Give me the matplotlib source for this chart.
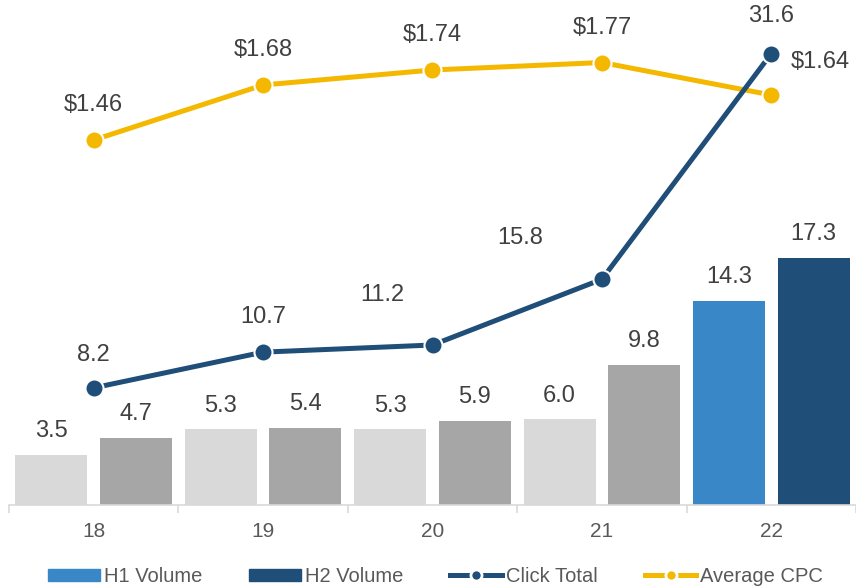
import numpy as np
import matplotlib.pyplot as plt
from matplotlib.patches import Patch
from matplotlib.lines import Line2D

plt.rcParams['font.family'] = ['Liberation Sans', 'DejaVu Sans']

# Data
years = ['18', '19', '20', '21', '22']
h1_volume = [3.5, 5.3, 5.3, 6.0, 14.3]
h2_volume = [4.7, 5.4, 5.9, 9.8, 17.3]
click_total = [8.2, 10.7, 11.2, 15.8, 31.6]
avg_cpc = [1.46, 1.68, 1.74, 1.77, 1.64]

# colours
light_grey = '#d9d9d9'
dark_grey = '#a6a6a6'
h1_blue = '#3a87c8'
h2_navy = '#1f4e79'
gold = '#f5b800'
text_col = '#404040'
tick_col = '#595959'

fig = plt.figure(figsize=(8.56, 5.87), dpi=100)
ax = fig.add_axes([9 / 856, 82 / 587, 847 / 856, 500 / 587])
ax2 = ax.twinx()

x = np.arange(len(years))
w = 0.425
h1_colors = [light_grey] * 4 + [h1_blue]
h2_colors = [dark_grey] * 4 + [h2_navy]
b1 = ax.bar(x - 0.25, h1_volume, w, color=h1_colors, zorder=2)
b2 = ax.bar(x + 0.25, h2_volume, w, color=h2_colors, zorder=2)

lab_size = 17
for bars, vals in [(b1, h1_volume), (b2, h2_volume)]:
    for r, v in zip(bars, vals):
        ax.annotate(f'{v:.1f}', (r.get_x() + r.get_width() / 2, v),
                    xytext=(0, 17), textcoords='offset points',
                    ha='center', va='center', fontsize=lab_size, color=text_col)

# click total line on the volume axis
ax.plot(x, click_total, color=h2_navy, lw=3.6, marker='o', ms=13,
        mec='white', mew=1.5, solid_capstyle='round', zorder=4)
click_off = [(0, 24), (0, 25), (-36, 36), (-59, 30), (0, 27)]
for xi, v, off in zip(x, click_total, click_off):
    ax.annotate(f'{v:.1f}', (xi, v), xytext=off, textcoords='offset points',
                ha='center', va='center', fontsize=lab_size, color=text_col)

# average CPC on the secondary axis
ax2.plot(x, avg_cpc, color=gold, lw=3.6, marker='o', ms=13,
         mec='white', mew=1.5, solid_capstyle='round', zorder=3)
cpc_off = [(0, 25), (0, 25), (0, 25), (0, 25), (35, 24)]
for xi, v, off in zip(x, avg_cpc, cpc_off):
    ax2.annotate(f'${v:.2f}', (xi, v), xytext=off, textcoords='offset points',
                 ha='center', va='center', fontsize=lab_size, color=text_col)

ax.set_ylim(0, 35)
ax2.set_ylim(0, 2.0)
ax.set_xlim(-0.5, 4.5)

# navy line drawn over the gold one
ax.set_zorder(ax2.get_zorder() + 1)
ax.patch.set_visible(False)

for a in (ax, ax2):
    for s in ['top', 'right', 'left']:
        a.spines[s].set_visible(False)
    a.set_yticks([])
ax2.spines['bottom'].set_visible(False)
ax.spines['bottom'].set_color(light_grey)
ax.spines['bottom'].set_linewidth(1.2)

ax.set_xticks(x)
ax.set_xticklabels(years, fontsize=15, color=tick_col)
ax.tick_params(axis='x', which='major', length=0, pad=12)
ax.set_xticks(np.arange(-0.5, 5.0, 1.0), minor=True)
ax.tick_params(axis='x', which='minor', length=6, color=light_grey, width=1.2)

handles = [
    Patch(color=h1_blue, label='H1 Volume'),
    Patch(color=h2_navy, label='H2 Volume'),
    Line2D([], [], color=h2_navy, lw=3.6, marker='o', ms=8, mec='white',
           mew=2, label='Click Total'),
    Line2D([], [], color=gold, lw=3.6, marker='o', ms=8, mec='white',
           mew=2, label='Average CPC'),
]
fig.legend(handles=handles, loc='lower center', bbox_to_anchor=(0.509, -0.012),
           ncol=4, frameon=False, fontsize=14.5, handlelength=2.55,
           handleheight=0.55, handletextpad=0.2, columnspacing=2.35,
           borderaxespad=0, labelcolor=tick_col)

fig.savefig('out.png', dpi=100)
